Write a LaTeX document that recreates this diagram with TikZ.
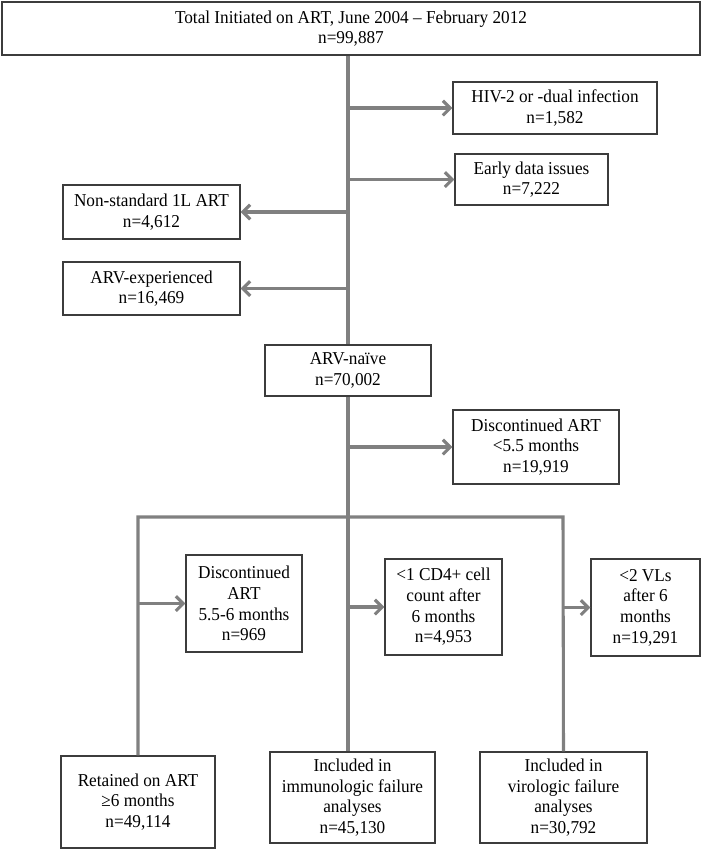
\documentclass[tikz,border=0pt]{standalone}
\usepackage{fontspec}
\setmainfont[FakeStretch=0.95]{Liberation Serif}
\usetikzlibrary{arrows.meta}
\definecolor{boxcol}{RGB}{60,60,60}
\definecolor{linecol}{RGB}{128,128,128}
\begin{document}
\begin{tikzpicture}[x=0.75pt,y=-0.75pt,
  box/.style={draw=boxcol, line width=1pt, align=center, inner sep=1pt,
              font=\fontsize{13.6}{15.5}\selectfont},
  conn/.style={draw=linecol, line width=2.3pt},
  arr/.style={conn, -{Straight Barb[length=5.5pt,width=11pt]}}]
\fill[white] (0,0) rectangle (702,850);
\useasboundingbox (0,0) rectangle (702,850);

\node[box, minimum width=523.5pt, minimum height=39.75pt] (top) at (351,28.5)
  {Total Initiated on ART, June 2004 – February 2012\\n=99,887};
\node[box, minimum width=153pt, minimum height=39pt] (hiv) at (555,108)
  {HIV-2 or -dual infection\\n=1,582};
\node[box, minimum width=114.75pt, minimum height=38.25pt] (early) at (531.5,179.5)
  {Early data issues\\n=7,222};
\node[box, minimum width=132.75pt, minimum height=40.5pt] (nonstd) at (151.5,212)
  {Non-standard 1L ART\\n=4,612};
\node[box, minimum width=132.75pt, minimum height=39.75pt] (arvexp) at (151.5,288.5)
  {ARV-experienced\\n=16,469};
\node[box, minimum width=124.5pt, minimum height=38.25pt] (naive) at (348,370.5)
  {ARV-naïve\\n=70,002};
\node[box, minimum width=124.5pt, minimum height=55.5pt] (disc) at (536,447)
  {Discontinued ART\\<5.5 months\\n=19,919};
\node[box, minimum width=87pt, minimum height=72.75pt] (disc56) at (244,603.5)
  {Discontinued\\ART\\5.5-6 months\\n=969};
\node[box, minimum width=87.75pt, minimum height=72pt] (cd4) at (443.5,607)
  {<1 CD4+ cell\\count after\\6 months\\n=4,953};
\node[box, minimum width=81.75pt, minimum height=72.75pt] (vl) at (645.5,607.5)
  {<2 VLs\\after 6\\months\\n=19,291};
\node[box, minimum width=115.5pt, minimum height=69pt] (ret) at (138,802)
  {Retained on ART\\≥6 months\\n=49,114};
\node[box, minimum width=123.75pt, minimum height=68.25pt] (immuno) at (352.5,797.5)
  {Included in\\immunologic failure\\analyses\\n=45,130};
\node[box, minimum width=125.25pt, minimum height=68.25pt] (viro) at (563.5,797.5)
  {Included in\\virologic failure\\analyses\\n=30,792};

\coordinate (split) at (348,517);
\coordinate (bl) at (138,517);
\coordinate (br) at (563,517);

% main trunk
\draw[conn] (top.south -| naive.north) -- (naive.north);
\draw[arr] (naive.north |- hiv.west) -- (hiv.west);
\draw[arr] (naive.north |- early.west) -- (early.west);
\draw[arr] (naive.north |- nonstd.east) -- (nonstd.east);
\draw[arr] (naive.north |- arvexp.east) -- (arvexp.east);

% below naive
\draw[conn] (naive.south) -- (split);
\draw[arr] (naive.south |- disc.west) -- (disc.west);
\draw[conn] (ret.north) -- (bl) -- (br) -- (viro.north);
\draw[conn] (split) -- (split |- immuno.north);
\draw[arr] (bl |- disc56.west) -- (disc56.west);
\draw[arr] (split |- cd4.west) -- (cd4.west);
\draw[arr] (br |- vl.west) -- (vl.west);
\end{tikzpicture}
\end{document}
